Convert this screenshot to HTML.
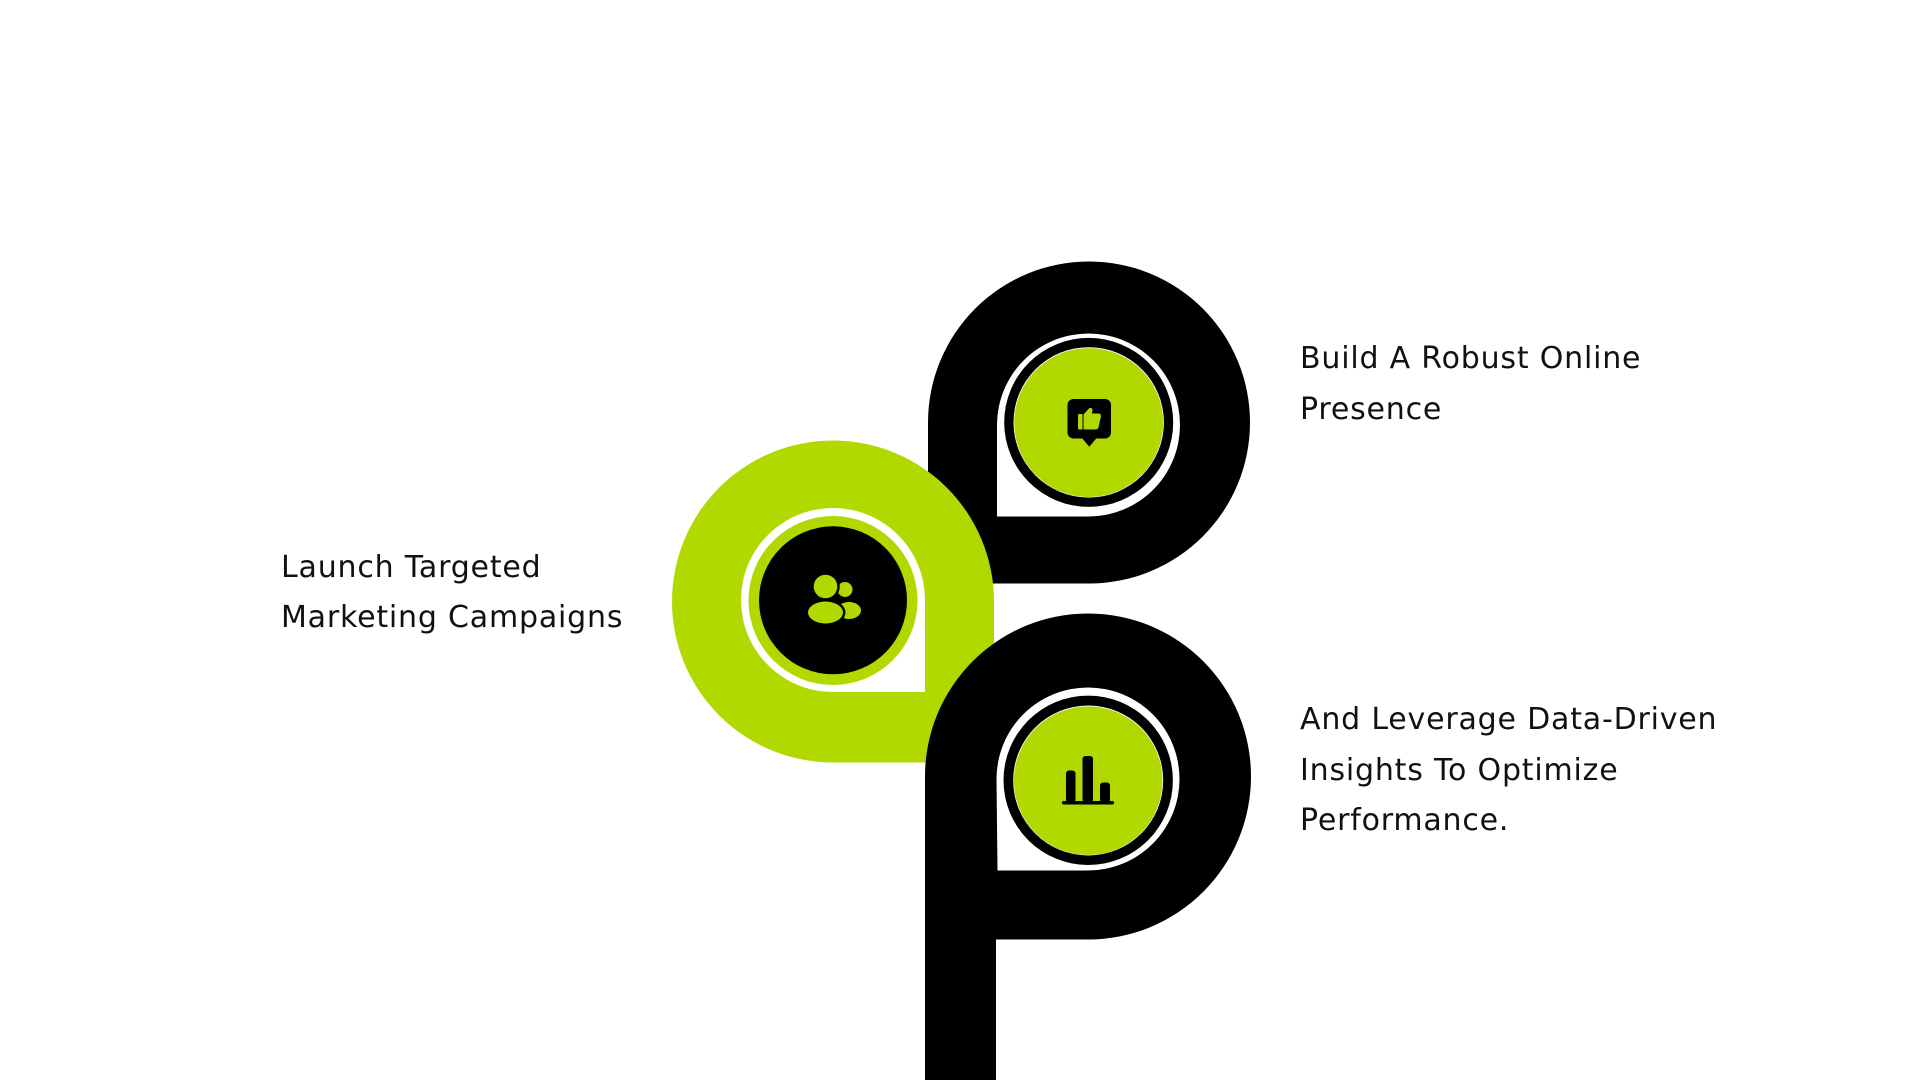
<!DOCTYPE html>
<html>
<head>
<meta charset="utf-8">
<style>
  html,body{margin:0;padding:0;background:#fff;}
  body{width:1920px;height:1080px;overflow:hidden;}
  svg{display:block;}
  .t{font-family:"DejaVu Sans","Liberation Sans",sans-serif;font-size:30px;letter-spacing:0.8px;fill:#111;}
</style>
</head>
<body>
<svg width="1920" height="1080" viewBox="0 0 1920 1080" xmlns="http://www.w3.org/2000/svg">
  <rect width="1920" height="1080" fill="#fff"/>

  <!-- Top black P -->
  <path d="M928,422.5 A161,161 0 1 1 1089,583.5 L928,583.5 Z" fill="#000"/>
  <path d="M997,425 A91.5,91.5 0 1 1 1088.5,516.5 L997,516.5 Z" fill="#fff"/>
  <circle cx="1088.7" cy="422.4" r="84.5" fill="#000"/>
  <circle cx="1088.7" cy="422.4" r="75.2" fill="#fff"/>
  <circle cx="1088.7" cy="422.6" r="74.5" fill="#b1d900"/>
  <!-- thumbs-up bubble icon -->
  <rect x="1067.5" y="399" width="43.5" height="39.5" rx="6" fill="#000"/>
  <path d="M1081,437 L1089.3,446.7 L1097.5,437 Z" fill="#000"/>
  <rect x="1078" y="414" width="4.5" height="15.5" rx="1" fill="#b1d900"/>
  <path d="M1083.5,429.5 L1083.5,414.5 L1088,409.5 Q1090.5,406.5 1092.5,409 L1092,413.5 L1099,413.5 Q1101.5,414 1100.8,417 L1098.5,427.5 Q1097.8,429.5 1095.5,429.5 Z" fill="#b1d900"/>

  <!-- Green left node -->
  <path d="M833,762.5 A161,161 0 1 1 994,601.5 L994,762.5 Z" fill="#b1d900"/>
  <path d="M833,692 A92,92 0 1 1 925,600 L925,692 Z" fill="#fff"/>
  <circle cx="833" cy="600.5" r="84.5" fill="#b1d900"/>
  <circle cx="833" cy="600.3" r="74" fill="#000"/>
  <!-- people icon -->
  <circle cx="845" cy="589.5" r="7.5" fill="#b1d900"/>
  <ellipse cx="849" cy="610.5" rx="12" ry="8.5" fill="#b1d900"/>
  <ellipse cx="825.5" cy="612.5" rx="20" ry="13.5" fill="#000"/>
  <ellipse cx="825.5" cy="612.5" rx="17.5" ry="11" fill="#b1d900"/>
  <circle cx="825.5" cy="586.5" r="14.3" fill="#000"/>
  <circle cx="825.5" cy="586.5" r="11.8" fill="#b1d900"/>

  <!-- Bottom black P with stem -->
  <path d="M925,776.5 A163,163 0 1 1 1088,939.5 L996,939.5 L996,1080 L925,1080 Z" fill="#000"/>
  <path d="M996.5,779 A91.5,91.5 0 1 1 1088,870.5 L997.5,870.5 Z" fill="#fff"/>
  <circle cx="1088.2" cy="780.3" r="84.7" fill="#000"/>
  <circle cx="1088.2" cy="780.5" r="75" fill="#fff"/>
  <circle cx="1088.2" cy="780.7" r="74.3" fill="#b1d900"/>
  <!-- bar chart icon -->
  <rect x="1066" y="770.5" width="9.5" height="32" rx="3" fill="#000"/>
  <rect x="1082.5" y="756" width="10.5" height="46.5" rx="3" fill="#000"/>
  <rect x="1100" y="782.5" width="10" height="20" rx="3" fill="#000"/>
  <rect x="1062" y="801" width="52" height="3.5" rx="1.5" fill="#000"/>

  <!-- Texts -->
  <text class="t" x="1300" y="368">Build A Robust Online</text>
  <text class="t" x="1300" y="419">Presence</text>

  <text class="t" x="281" y="577">Launch Targeted</text>
  <text class="t" x="281" y="627">Marketing Campaigns</text>

  <text class="t" x="1300" y="729">And Leverage Data-Driven</text>
  <text class="t" x="1300" y="780">Insights To Optimize</text>
  <text class="t" x="1300" y="830">Performance.</text>
</svg>
</body>
</html>
